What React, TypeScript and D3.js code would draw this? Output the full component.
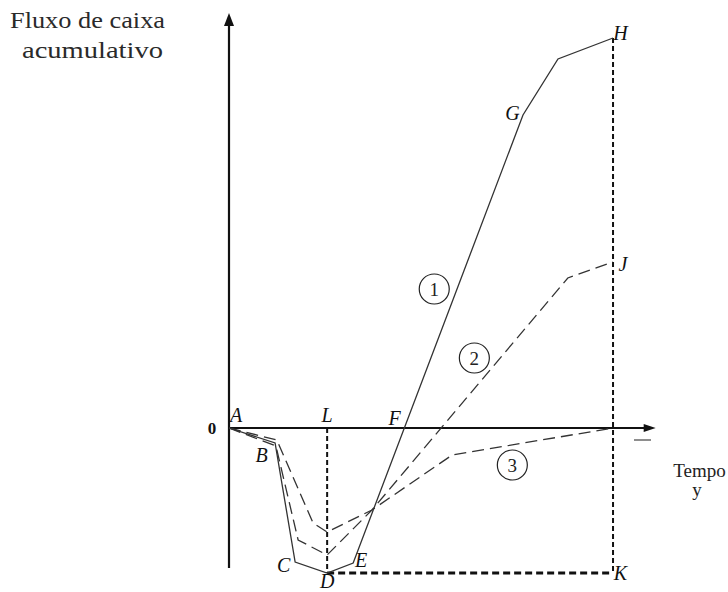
import React from 'react';
import * as d3 from 'd3';

// time (x) and cumulative cash flow (y), abstract units
const curve1 = [
  { t: 0, v: 0 }, { t: 1.08, v: -1.5 }, { t: 1.55, v: -13.4 }, { t: 2.3, v: -14.5 },
  { t: 2.91, v: -13.5 }, { t: 6.89, v: 31.3 }, { t: 7.71, v: 36.9 }, { t: 9, v: 39 },
];
const curve2 = [
  { t: 0, v: 0 }, { t: 1.1, v: -1.8 }, { t: 1.62, v: -11.2 }, { t: 2.3, v: -12.7 },
  { t: 3.35, v: -8.2 }, { t: 7.94, v: 15 }, { t: 9, v: 16.6 },
];
const curve3 = [
  { t: 0, v: 0 }, { t: 1.12, v: -1.2 }, { t: 1.97, v: -9.5 }, { t: 2.3, v: -10.4 },
  { t: 3.35, v: -8.2 }, { t: 5.23, v: -2.7 }, { t: 9, v: 0 },
];

// point labels: [label, t, v, dx, dy] (offset of label centre from the point)
const pointLabels: [string, number, number, number, number][] = [
  ['A', 0, 0, 7, -13],
  ['B', 1.08, -1.5, -13.5, 12],
  ['C', 1.55, -13.4, -11.5, 3],
  ['D', 2.3, -14.5, 0, 8],
  ['E', 2.91, -13.5, 8, -3],
  ['L', 2.3, 0, 0, -13],
  ['F', 4.08, 0, -8.5, -9.5],
  ['G', 6.89, 31.3, -10.5, -1.5],
  ['H', 9, 39, 7.5, -4.5],
  ['J', 9, 16.6, 10, 2.5],
  ['K', 9, -14.5, 7.5, 0],
];

// circled curve numbers: [label, t, v]
const curveTags: [string, number, number][] = [
  ['1', 4.81, 13.9],
  ['2', 5.75, 7],
  ['3', 6.64, -3.7],
];

const tMax = 10;
const vMin = -14;
const vMax = 41.5;
const tEnd = 9;
const tL = 2.3;
const vD = -14.5;

const serif = { fontFamily: "'Liberation Serif', 'Times New Roman', serif" };

export default function App() {
  const x = d3.scaleLinear().domain([0, tMax]).range([229, 655.7]);
  const y = d3.scaleLinear().domain([0, 10]).range([428, 328]);

  const line = d3.line<{ t: number; v: number }>()
    .x(d => x(d.t))
    .y(d => y(d.v));

  return (
    <svg width={728} height={592} style={{ position: 'absolute', left: 0, top: 0, background: '#fff' }}>
      <text x={10} y={28} style={serif} fontSize={24} fill="#2a2a2a" textLength={155} lengthAdjust="spacingAndGlyphs">Fluxo de caixa</text>
      <text x={22} y={58} style={serif} fontSize={24} fill="#2a2a2a" textLength={141} lengthAdjust="spacingAndGlyphs">acumulativo</text>

      {/* axes */}
      <line x1={x(0)} x2={x(0)} y1={y(vMin)} y2={y(vMax) + 10} stroke="#111" strokeWidth={2.2} />
      <path d={`M${x(0)},${y(vMax)} l-5,13 l10,0 z`} fill="#111" />
      <line x1={x(0)} x2={x(tMax) - 10} y1={y(0)} y2={y(0)} stroke="#111" strokeWidth={2.2} />
      <path d={`M${x(tMax)},${y(0)} l-12,-4 l0,8 z`} fill="#111" />
      <line x1={634} x2={651} y1={440} y2={440} stroke="#444" strokeWidth={1.2} />

      {/* reference dashed lines */}
      <line x1={x(tL)} x2={x(tL)} y1={y(0)} y2={y(vD)} stroke="#111" strokeWidth={2} strokeDasharray="5,3" />
      <line x1={x(tEnd)} x2={x(tEnd)} y1={y(39)} y2={y(vD)} stroke="#111" strokeWidth={2} strokeDasharray="5,3" />
      <line x1={x(tL)} x2={x(tEnd)} y1={y(vD)} y2={y(vD)} stroke="#111" strokeWidth={3} strokeDasharray="7,4" />

      {/* curves */}
      <path d={line(curve3) ?? ''} fill="none" stroke="#333" strokeWidth={1.3} strokeDasharray="12,6" />
      <path d={line(curve2) ?? ''} fill="none" stroke="#333" strokeWidth={1.3} strokeDasharray="12,6" />
      <path d={line(curve1) ?? ''} fill="none" stroke="#333" strokeWidth={1.3} />

      {curveTags.map(([lab, t, v]) => (
        <g key={lab} transform={`translate(${x(t)},${y(v)})`}>
          <circle r={15} fill="#fff" stroke="#222" strokeWidth={1.2} />
          <text y={6.5} textAnchor="middle" style={serif} fontSize={19} fill="#222">{lab}</text>
        </g>
      ))}

      {pointLabels.map(([lab, t, v, dx, dy]) => (
        <text key={lab} x={x(t) + dx} y={y(v) + dy + 6.8} textAnchor="middle"
          style={serif} fontStyle="italic" fontSize={20} fill="#111">{lab}</text>
      ))}
      <text x={212} y={433.5} textAnchor="middle" style={serif} fontSize={17} fontWeight="bold" fill="#111">0</text>

      <text x={699.5} y={477} textAnchor="middle" style={serif} fontSize={19} fill="#222">Tempo</text>
      <text x={697} y={496} textAnchor="middle" style={serif} fontSize={19} fill="#222">y</text>
    </svg>
  );
}
